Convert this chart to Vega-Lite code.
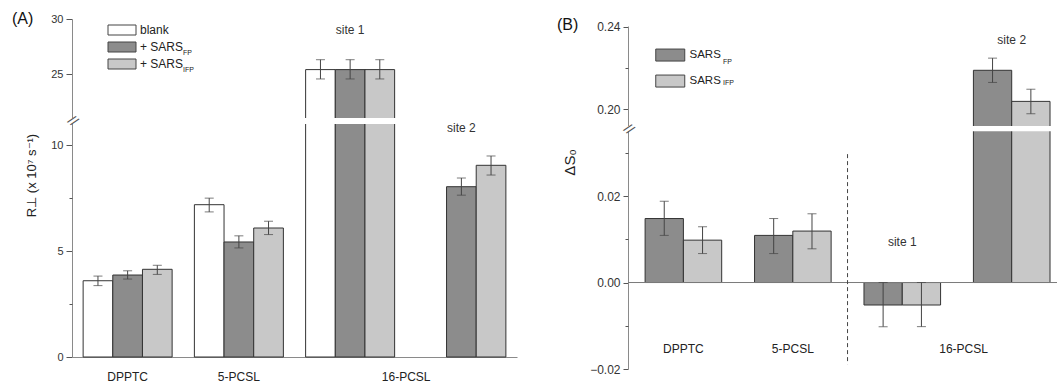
{
  "$schema": "https://vega.github.io/schema/vega-lite/v6.json",
  "padding": {"left": 12, "top": 11, "right": 0, "bottom": 0},
  "spacing": 40,
  "config": {
    "font": "Liberation Sans",
    "view": {"stroke": null},
    "axis": {"domainColor": "#8a8a8a", "tickColor": "#555555", "labelColor": "#333333", "labelFont": "Liberation Sans", "titleFont": "Liberation Sans", "titleFontWeight": "normal", "titleColor": "#222222", "grid": false},
    "legend": {"labelFont": "Liberation Sans", "labelColor": "#222222"},
    "title": {"font": "Liberation Sans", "fontWeight": "normal", "color": "#111111"}
  },
  "resolve": {"scale": {"fill": "independent", "shape": "independent", "xOffset": "independent"}, "legend": {"fill": "independent", "shape": "independent"}},
  "datasets": {
    "a": [
      {"g": "DPPTC", "s": "blank", "v": 3.6, "lo": 3.37, "hi": 3.82},
      {"g": "DPPTC", "s": "FP", "v": 3.87, "lo": 3.68, "hi": 4.07},
      {"g": "DPPTC", "s": "IFP", "v": 4.14, "lo": 3.9, "hi": 4.33},
      {"g": "5-PCSL", "s": "blank", "v": 7.19, "lo": 6.85, "hi": 7.5},
      {"g": "5-PCSL", "s": "FP", "v": 5.43, "lo": 5.15, "hi": 5.72},
      {"g": "5-PCSL", "s": "IFP", "v": 6.09, "lo": 5.78, "hi": 6.41},
      {"g": "site1", "s": "blank", "v": 25.4, "lo": 24.55, "hi": 26.3},
      {"g": "site1", "s": "FP", "v": 25.4, "lo": 24.55, "hi": 26.3},
      {"g": "site1", "s": "IFP", "v": 25.4, "lo": 24.55, "hi": 26.3},
      {"g": "site2", "s": "FP", "v": 8.04, "lo": 7.64, "hi": 8.45},
      {"g": "site2", "s": "IFP", "v": 9.05, "lo": 8.59, "hi": 9.49}
    ],
    "b": [
      {"g": "DPPTC", "s": "FP", "v": 0.0148, "lo": 0.0109, "hi": 0.0188},
      {"g": "DPPTC", "s": "IFP", "v": 0.0098, "lo": 0.0067, "hi": 0.0129},
      {"g": "5-PCSL", "s": "FP", "v": 0.0109, "lo": 0.0067, "hi": 0.0148},
      {"g": "5-PCSL", "s": "IFP", "v": 0.0119, "lo": 0.0078, "hi": 0.0159},
      {"g": "site1", "s": "FP", "v": -0.0052, "lo": -0.0102, "hi": 0.0},
      {"g": "site1", "s": "IFP", "v": -0.0052, "lo": -0.0102, "hi": 0.0},
      {"g": "site2", "s": "FP", "v": 0.2188, "lo": 0.2129, "hi": 0.2247},
      {"g": "site2", "s": "IFP", "v": 0.2037, "lo": 0.1977, "hi": 0.2096}
    ]
  },
  "hconcat": [
    {
      "width": 445,
      "height": 338,
      "title": {"text": "(A)", "anchor": "start", "frame": "group", "dx": -60, "dy": 14, "fontSize": 16, "offset": 0},
      "resolve": {"axis": {"y": "independent"}},
      "layer": [
        {
          "data": {"name": "a"},
          "mark": {"type": "bar", "stroke": "#333333", "strokeWidth": 1},
          "encoding": {
            "x": {"field": "g", "type": "nominal", "sort": null, "scale": {"domain": ["DPPTC", "5-PCSL", "site1", "site2"], "paddingInner": 0.2, "paddingOuter": 0.1}, "axis": {"title": null, "labels": false, "ticks": false, "domain": true}},
            "xOffset": {"field": "s", "type": "nominal", "sort": null, "scale": {"domain": ["blank", "FP", "IFP"], "paddingInner": 0, "paddingOuter": 0}},
            "y": {"field": "v", "type": "quantitative", "scale": {"domain": [0, 11, 21, 30], "range": [338, 105, 99, 0], "nice": false, "zero": false}, "axis": {"orient": "left", "title": "R⊥ (x 10⁷ s⁻¹)", "values": [0, 5, 10, 25, 30], "tickSize": 6, "labelPadding": 3, "labelFontSize": 11, "titleFontSize": 13, "titleX": -34, "titleY": 156}},
            "fill": {"field": "s", "type": "nominal", "scale": {"domain": ["blank", "FP", "IFP"], "range": ["#ffffff", "#8c8c8c", "#c8c8c8"]}, "legend": {"title": null, "orient": "none", "legendX": 44, "legendY": 5, "direction": "vertical", "symbolType": "M-2.8,-1H2.8V1H-2.8Z", "symbolSize": 100, "symbolStrokeColor": "#444444", "symbolStrokeWidth": 1, "labelFontSize": 12, "labelOffset": 12, "rowPadding": 3, "padding": 0, "symbolOffset": 0, "labelExpr": "datum.label == 'blank' ? 'blank' : '+ SARS'"}}
          }
        },
        {
          "data": {"values": [{}]},
          "mark": {"type": "rect", "color": "#ffffff"},
          "encoding": {
            "y": {"datum": 11, "type": "quantitative", "axis": {"orient": "left", "title": null, "values": [16], "labelExpr": "'//'", "ticks": false, "domain": false, "labelAlign": "center", "labelBaseline": "middle", "labelPadding": 0, "labelFontSize": 14, "labelAngle": 40, "labelColor": "#555555", "zindex": 1}},
            "y2": {"datum": 21}
          }
        },
        {
          "data": {"name": "a"},
          "mark": {"type": "rule", "color": "#444444", "strokeWidth": 1},
          "encoding": {
            "x": {"field": "g", "type": "nominal"},
            "xOffset": {"field": "s", "type": "nominal"},
            "y": {"field": "lo", "type": "quantitative", "axis": {"orient": "left", "title": null, "values": [2.5, 7.5], "labels": false, "domain": false, "tickSize": 3}},
            "y2": {"field": "hi"}
          }
        },
        {
          "data": {"name": "a"},
          "mark": {"type": "tick", "color": "#444444", "size": 9, "thickness": 1},
          "encoding": {
            "x": {"field": "g", "type": "nominal"},
            "xOffset": {"field": "s", "type": "nominal"},
            "y": {"field": "lo", "type": "quantitative", "axis": null}
          }
        },
        {
          "data": {"name": "a"},
          "mark": {"type": "tick", "color": "#444444", "size": 9, "thickness": 1},
          "encoding": {
            "x": {"field": "g", "type": "nominal"},
            "xOffset": {"field": "s", "type": "nominal"},
            "y": {"field": "hi", "type": "quantitative", "axis": null}
          }
        },
        {
          "data": {"name": "a"},
          "transform": [{"filter": "datum.s != 'blank'"}],
          "mark": {"type": "point", "opacity": 0},
          "encoding": {
            "x": {"field": "g", "type": "nominal"},
            "shape": {"field": "s", "type": "nominal", "scale": {"domain": ["FP", "IFP"]}, "legend": {"title": null, "orient": "none", "legendX": 101, "legendY": 28.5, "direction": "vertical", "symbolSize": 100, "symbolOpacity": 0, "symbolStrokeWidth": 0, "labelFontSize": 7, "labelOffset": 0, "rowPadding": 7, "padding": 0, "symbolOffset": 0}}
          }
        },
        {
          "data": {"values": [{}]},
          "mark": {"type": "text", "text": "site 1", "fontSize": 12, "color": "#333333"},
          "encoding": {"x": {"datum": "site1"}, "y": {"datum": 29.0, "type": "quantitative", "axis": null}}
        },
        {
          "data": {"values": [{}]},
          "mark": {"type": "text", "text": "site 2", "fontSize": 12, "color": "#333333"},
          "encoding": {"x": {"datum": "site2"}, "y": {"datum": 10.8, "type": "quantitative", "axis": null}}
        },
        {
          "data": {"values": [{}]},
          "mark": {"type": "text", "text": "DPPTC", "fontSize": 12, "color": "#222222"},
          "encoding": {"x": {"datum": "DPPTC"}, "y": {"datum": -0.96, "type": "quantitative", "axis": null}}
        },
        {
          "data": {"values": [{}]},
          "mark": {"type": "text", "text": "5-PCSL", "fontSize": 12, "color": "#222222"},
          "encoding": {"x": {"datum": "5-PCSL"}, "y": {"datum": -0.96, "type": "quantitative", "axis": null}}
        },
        {
          "data": {"values": [{}]},
          "mark": {"type": "text", "text": "16-PCSL", "fontSize": 12, "color": "#222222"},
          "encoding": {"x": {"datum": "site1", "bandPosition": 1.13}, "y": {"datum": -0.96, "type": "quantitative", "axis": null}}
        }
      ]
    },
    {
      "width": 429,
      "height": 350,
      "title": {"text": "(B)", "anchor": "start", "frame": "group", "dx": -71, "dy": 14, "fontSize": 16, "offset": 0},
      "resolve": {"axis": {"y": "independent"}},
      "layer": [
        {
          "data": {"name": "b"},
          "mark": {"type": "bar", "stroke": "#333333", "strokeWidth": 1},
          "encoding": {
            "x": {"field": "g", "type": "nominal", "sort": null, "scale": {"domain": ["DPPTC", "5-PCSL", "site1", "site2"], "paddingInner": 0.3, "paddingOuter": 0.11, "align": 0.71}, "axis": null},
            "xOffset": {"field": "s", "type": "nominal", "sort": null, "scale": {"domain": ["FP", "IFP"], "paddingInner": 0, "paddingOuter": 0}},
            "y": {"field": "v", "type": "quantitative", "scale": {"domain": [-0.02, 0.035, 0.1917, 0.2437], "range": [350, 112.2, 107.1, 0], "nice": false, "zero": false}, "axis": {"orient": "left", "title": "ΔS₀", "values": [-0.02, 0, 0.02, 0.2, 0.24], "format": ".2f", "tickSize": 5, "labelPadding": 3, "labelFontSize": 12, "titleFontSize": 15, "titleX": -51, "titleY": 143}},
            "fill": {"field": "s", "type": "nominal", "scale": {"domain": ["FP", "IFP"], "range": ["#8c8c8c", "#c8c8c8"]}, "legend": {"title": null, "orient": "none", "legendX": 36.5, "legendY": 30.3, "direction": "vertical", "symbolType": "M-2.9,-1.2H2.9V1.2H-2.9Z", "symbolSize": 100, "symbolStrokeColor": "#444444", "symbolStrokeWidth": 1, "labelFontSize": 11.5, "labelOffset": 13.5, "rowPadding": 9, "padding": 0, "symbolOffset": 0, "labelExpr": "'SARS'"}}
          }
        },
        {
          "data": {"values": [{}]},
          "mark": {"type": "rect", "color": "#ffffff"},
          "encoding": {
            "y": {"datum": 0.035, "type": "quantitative", "axis": {"orient": "left", "title": null, "values": [0.1], "labelExpr": "'//'", "ticks": false, "domain": false, "labelAlign": "center", "labelBaseline": "middle", "labelPadding": 0, "labelFontSize": 14, "labelAngle": 40, "labelColor": "#555555", "zindex": 1}},
            "y2": {"datum": 0.1917}
          }
        },
        {
          "data": {"values": [{}]},
          "mark": {"type": "rect", "color": "#ffffff"},
          "encoding": {
            "y": {"datum": 0.2401, "type": "quantitative", "axis": null},
            "y2": {"datum": 0.2437}
          }
        },
        {
          "data": {"values": [{}]},
          "mark": {"type": "rule", "color": "#7a7a7a", "strokeWidth": 1},
          "encoding": {"y": {"datum": 0, "type": "quantitative", "axis": null}}
        },
        {
          "data": {"values": [{}]},
          "mark": {"type": "rule", "color": "#444444", "strokeWidth": 1, "strokeDash": [4, 3]},
          "encoding": {"x": {"datum": "5-PCSL", "bandPosition": 1.214}, "y": {"datum": 0.0297, "type": "quantitative", "axis": null}, "y2": {"datum": -0.0189}}
        },
        {
          "data": {"name": "b"},
          "mark": {"type": "rule", "color": "#444444", "strokeWidth": 1},
          "encoding": {
            "x": {"field": "g", "type": "nominal"},
            "xOffset": {"field": "s", "type": "nominal"},
            "y": {"field": "lo", "type": "quantitative", "axis": {"orient": "left", "title": null, "values": [-0.01, 0.01, 0.03, 0.22], "labels": false, "domain": false, "tickSize": 3}},
            "y2": {"field": "hi"}
          }
        },
        {
          "data": {"name": "b"},
          "mark": {"type": "tick", "color": "#444444", "size": 9, "thickness": 1},
          "encoding": {
            "x": {"field": "g", "type": "nominal"},
            "xOffset": {"field": "s", "type": "nominal"},
            "y": {"field": "lo", "type": "quantitative", "axis": null}
          }
        },
        {
          "data": {"name": "b"},
          "mark": {"type": "tick", "color": "#444444", "size": 9, "thickness": 1},
          "encoding": {
            "x": {"field": "g", "type": "nominal"},
            "xOffset": {"field": "s", "type": "nominal"},
            "y": {"field": "hi", "type": "quantitative", "axis": null}
          }
        },
        {
          "data": {"name": "b"},
          "mark": {"type": "point", "opacity": 0},
          "encoding": {
            "x": {"field": "g", "type": "nominal"},
            "shape": {"field": "s", "type": "nominal", "scale": {"domain": ["FP", "IFP", "-"]}, "legend": {"title": null, "orient": "none", "values": ["FP", "IFP"], "legendX": 85, "legendY": 38, "direction": "vertical", "symbolSize": 100, "symbolOpacity": 0, "symbolStrokeWidth": 0, "labelFontSize": 7, "labelOffset": 0, "rowPadding": 11, "padding": 0, "symbolOffset": 0}}
          }
        },
        {
          "data": {"values": [{}]},
          "mark": {"type": "text", "text": "site 1", "fontSize": 12, "color": "#333333"},
          "encoding": {"x": {"datum": "site1"}, "y": {"datum": 0.0093, "type": "quantitative", "axis": null}}
        },
        {
          "data": {"values": [{}]},
          "mark": {"type": "text", "text": "site 2", "fontSize": 12, "color": "#333333"},
          "encoding": {"x": {"datum": "site2"}, "y": {"datum": 0.2335, "type": "quantitative", "axis": null}}
        },
        {
          "data": {"values": [{}]},
          "mark": {"type": "text", "text": "DPPTC", "fontSize": 12, "color": "#222222"},
          "encoding": {"x": {"datum": "DPPTC"}, "y": {"datum": -0.01545, "type": "quantitative", "axis": null}}
        },
        {
          "data": {"values": [{}]},
          "mark": {"type": "text", "text": "5-PCSL", "fontSize": 12, "color": "#222222"},
          "encoding": {"x": {"datum": "5-PCSL"}, "y": {"datum": -0.01545, "type": "quantitative", "axis": null}}
        },
        {
          "data": {"values": [{}]},
          "mark": {"type": "text", "text": "16-PCSL", "fontSize": 12, "color": "#222222"},
          "encoding": {"x": {"datum": "site1", "bandPosition": 1.3}, "y": {"datum": -0.01545, "type": "quantitative", "axis": null}}
        }
      ]
    }
  ]
}
